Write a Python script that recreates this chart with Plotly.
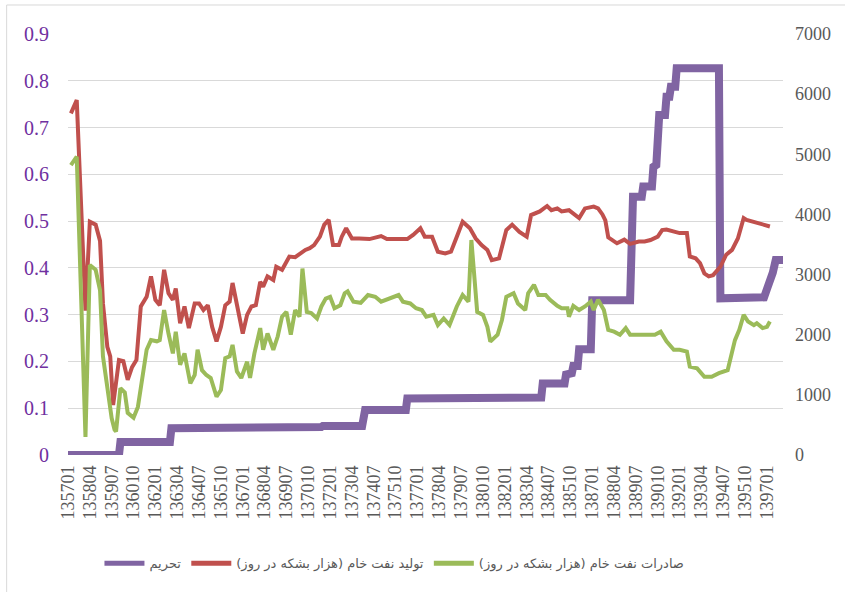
import plotly.graph_objects as go

# ---- categories (Persian year+month codes) ----
months = [f"{y}{m:02d}" for y in range(1357, 1398) for m in range(1, 13)]
tick_labels = months[::15]

# ---- sanctions index (left axis) ----
sanction_x = ["135701", "135912", "136001", "136211", "136212", "136608", "136609",
              "137107", "137108", "137311", "137401", "137605", "137606", "138005",
              "138006", "138402", "138403", "138506", "138507", "138511", "138512",
              "138603", "138604", "138612", "138701", "138903", "138905", "138911",
              "138912", "139006", "139007", "139009", "139011", "139103", "139104",
              "139106", "139107", "139110", "139111", "139404", "139405", "139611",
              "139701", "139703", "139705", "139707", "139712"]
sanction_y = [0, 0, 0.028, 0.028, 0.057, 0.057, 0.060,
              0.060, 0.062, 0.062, 0.096, 0.096, 0.121, 0.121,
              0.123, 0.123, 0.153, 0.153, 0.172, 0.175, 0.19,
              0.19, 0.226, 0.226, 0.331, 0.331, 0.552, 0.552,
              0.574, 0.574, 0.616, 0.62, 0.727, 0.727, 0.766,
              0.766, 0.787, 0.787, 0.827, 0.827, 0.335, 0.337,
              0.355, 0.37, 0.39, 0.417, 0.417]

# ---- crude oil production (right axis, thousand bbl/day) ----
prod_x = ["135703", "135707", "135801", "135804", "135808", "135811", "135901", "135904",
          "135906", "135908", "135912", "136003", "136006", "136009", "136012", "136103",
          "136107", "136110", "136201", "136204", "136207", "136210", "136301", "136303",
          "136306", "136309", "136312", "136404", "136407", "136410", "136501", "136504",
          "136507", "136510", "136601", "136604", "136606", "136610", "136701", "136704",
          "136707", "136710", "136801", "136803", "136806", "136810", "136812", "136904",
          "136907", "136909", "137001", "137004", "137008", "137011", "137102", "137106",
          "137109", "137112", "137203", "137207", "137209", "137212", "137304", "137309",
          "137404", "137412", "137504", "137606", "137610", "137703", "137706", "137711",
          "137803", "137808", "137812", "137904", "137908", "138001", "138005", "138009",
          "138101", "138104", "138109", "138202", "138206", "138211", "138304", "138307",
          "138401", "138406", "138409", "138501", "138504", "138509", "138604", "138608",
          "138702", "138705", "138708", "138710", "138712", "138806", "138811", "138903",
          "138909", "139001", "139005", "139010", "139101", "139104", "139109", "139201",
          "139206", "139208", "139212", "139303", "139306", "139309", "139312", "139405",
          "139409", "139501", "139505", "139509", "139511", "139604", "139610", "139703"]
prod_y = [5680, 5900, 2400, 3880, 3830, 3560, 2520, 1800,
          1640, 830, 1580, 1560, 1250, 1460, 1580, 2470,
          2630, 2970, 2580, 2490, 3080, 2690, 2580, 2770,
          2190, 2470, 2110, 2520, 2520, 2410, 2490, 2130,
          1890, 2130, 2490, 2550, 2860, 2360, 2020, 2330,
          2470, 2490, 2880, 2800, 2970, 2910, 3130, 3080,
          3220, 3300, 3290, 3350, 3410, 3440, 3490, 3630,
          3830, 3910, 3490, 3490, 3630, 3770, 3600, 3600,
          3590, 3640, 3590, 3590, 3660, 3770, 3630, 3630,
          3380, 3350, 3380, 3630, 3880, 3770, 3600, 3490,
          3410, 3240, 3270, 3740, 3830, 3710, 3630, 3990,
          4050, 4140, 4070, 4100, 4050, 4070, 3940, 4100,
          4130, 4100, 4000, 3900, 3620, 3520, 3580, 3510,
          3550, 3550, 3575, 3630, 3740, 3750, 3710, 3690,
          3690, 3300, 3270, 3190, 3020, 2970, 2990, 3130,
          3330, 3410, 3600, 3940, 3910, 3880, 3840, 3800]

# ---- crude oil exports (right axis, thousand bbl/day) ----
exp_x = ["135703", "135707", "135801", "135804", "135808", "135811", "135901", "135904",
         "135907", "135909", "135910", "136001", "136004", "136006", "136010", "136101",
         "136104", "136107", "136110", "136202", "136204", "136207", "136210", "136301",
         "136303", "136306", "136309", "136401", "136404", "136406", "136409", "136412",
         "136503", "136507", "136510", "136601", "136604", "136606", "136609", "136612",
         "136704", "136706", "136709", "136801", "136803", "136806", "136810", "136901",
         "136904", "136907", "136910", "137001", "137004", "137006", "137009", "137012",
         "137104", "137107", "137110", "137201", "137204", "137208", "137211", "137301",
         "137305", "137310", "137403", "137408", "137412", "137506", "137512", "137603",
         "137608", "137612", "137704", "137707", "137712", "137803", "137807", "137811",
         "137904", "137908", "137912", "138002", "138006", "138010", "138101", "138103",
         "138108", "138111", "138202", "138207", "138210", "138303", "138305", "138309",
         "138312", "138405", "138408", "138501", "138504", "138508", "138509", "138512",
         "138604", "138608", "138612", "138702", "138705", "138709", "138712", "138804",
         "138808", "138812", "138903", "138909", "139003", "139008", "139012", "139104",
         "139109", "139201", "139206", "139208", "139301", "139306", "139311", "139404",
         "139410", "139501", "139503", "139506", "139509", "139512", "139604", "139606",
         "139610", "139701", "139703"]
exp_y = [4820, 4960, 300, 3160, 3080, 2740, 1640, 1080,
         610, 420, 390, 1110, 1040, 700, 620, 800,
         1270, 1750, 1910, 1890, 1910, 2410, 2020, 1690,
         2050, 1500, 1690, 1190, 1330, 1750, 1410, 1330,
         1280, 970, 1080, 1610, 1640, 1830, 1390, 1280,
         1550, 1280, 1690, 2110, 1750, 2020, 1750, 1970,
         2300, 2380, 2000, 2410, 2300, 3100, 2380, 2360,
         2270, 2470, 2600, 2630, 2440, 2490, 2690, 2720,
         2550, 2530, 2660, 2630, 2550, 2600, 2660, 2550,
         2520, 2440, 2410, 2300, 2330, 2160, 2270, 2160,
         2470, 2660, 2550, 3575, 2380, 2330, 2130, 1885,
         2000, 2245, 2630, 2690, 2520, 2410, 2690, 2830,
         2660, 2660, 2580, 2480, 2440, 2440, 2300, 2480,
         2410, 2470, 2550, 2410, 2580, 2410, 2080, 2050,
         2000, 2110, 2000, 2000, 2000, 2000, 2050, 1890,
         1750, 1750, 1720, 1470, 1440, 1300, 1300, 1360,
         1410, 1690, 1910, 2080, 2330, 2220, 2160, 2190,
         2110, 2130, 2220]

names = ["تحریم", "تولید نفت خام (هزار بشکه در روز)", "صادرات نفت خام (هزار بشکه در روز)"]
colors = ["#8064A2", "#C0504D", "#9BBB59"]

fig = go.Figure()
fig.add_trace(go.Scatter(x=sanction_x, y=sanction_y, name=names[0], mode="lines",
                         line=dict(color=colors[0], width=8), yaxis="y", showlegend=False))
fig.add_trace(go.Scatter(x=prod_x, y=prod_y, name=names[1], mode="lines",
                         line=dict(color=colors[1], width=4), yaxis="y2", showlegend=False))
fig.add_trace(go.Scatter(x=exp_x, y=exp_y, name=names[2], mode="lines",
                         line=dict(color=colors[2], width=4), yaxis="y2", showlegend=False))
# legend keys (uniform thick swatches as in the original)
for nm, col in zip(names, colors):
    fig.add_trace(go.Scatter(x=[None], y=[None], name=nm, mode="lines",
                             line=dict(color=col, width=5), showlegend=True))

serif = "Liberation Serif, Times New Roman, serif"

fig.update_layout(
    width=845, height=592,
    margin=dict(l=68, r=62, t=34, b=137),
    paper_bgcolor="white", plot_bgcolor="white",
    showlegend=True,
    legend=dict(orientation="h", x=0.044, xanchor="left", y=-0.257, yanchor="middle",
                font=dict(family="DejaVu Sans", size=13, color="#595959"),
                itemwidth=40, traceorder="normal"),
    xaxis=dict(type="category", categoryorder="array", categoryarray=months,
               range=[0, len(months) - 1], tickmode="array", tickvals=tick_labels,
               ticktext=tick_labels, tickangle=-90,
               tickfont=dict(family=serif, size=18, color="#595959"),
               showgrid=False, zeroline=False, showline=False, ticks="",
               ticklabelstandoff=6),
    yaxis=dict(range=[0, 0.9], dtick=0.1,
               tickfont=dict(family=serif, size=20, color="#7030A0"),
               showgrid=True, gridcolor="#D9D9D9", gridwidth=1, zeroline=False, showline=False,
               ticks="", ticklabelstandoff=18),
    yaxis2=dict(range=[0, 7000], dtick=1000, overlaying="y", side="right",
                tickfont=dict(family=serif, size=18, color="#595959"),
                showgrid=False, zeroline=False, showline=False,
                ticks="", ticklabelstandoff=11),
    shapes=[dict(type="rect", xref="paper", yref="paper",
                 x0=-0.0858, x1=1.094, y0=-0.344, y1=1.0689,
                 line=dict(color="#D9D9D9", width=1), layer="below")],
)

fig.write_html("out.html", config={"displayModeBar": False},
               post_script="document.body.style.margin='0';")
